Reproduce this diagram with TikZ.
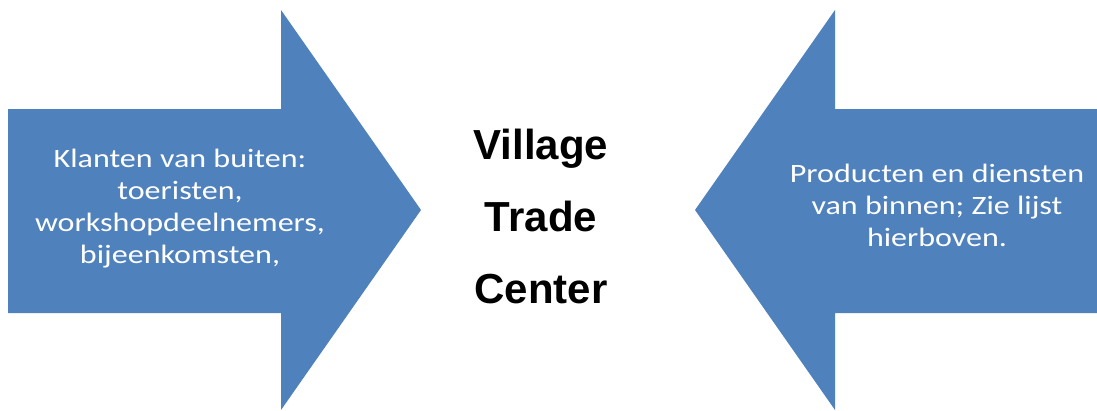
\documentclass[tikz,border=0pt]{standalone}
\usepackage{fontspec}
\setmainfont{Carlito}[FakeStretch=1.21]
\newfontfamily\arialf{Liberation Sans}
\definecolor{arrowblue}{HTML}{4F81BD}
\begin{document}
\begin{tikzpicture}[x=1pt,y=-1pt,
  sidetext/.style={text=white,align=center,font=\fontsize{26.5}{32}\selectfont,inner sep=0pt},
  midtext/.style={text=black,align=center,font=\arialf\bfseries\fontsize{42}{72}\selectfont,inner sep=0pt}]
\useasboundingbox (0,0) rectangle (1097,410);
\fill[arrowblue] (8,109) -- (281,109) -- (281,10) -- (421,210) -- (281,410) -- (281,313) -- (8,313) -- cycle;
\fill[arrowblue] (1097,109) -- (835,109) -- (835,10) -- (695,210) -- (835,410) -- (835,313) -- (1097,313) -- cycle;
\node[sidetext] (lefttext) at (180,209) {Klanten van buiten:\\toeristen,\\workshopdeelnemers,\\bijeenkomsten,};
\node[sidetext] (righttext) at (937,205) {Producten en diensten\\van binnen; Zie lijst\\hierboven.};
\node[midtext] (center) at (541,216) {Village\\Trade\\Center};
\end{tikzpicture}
\end{document}
